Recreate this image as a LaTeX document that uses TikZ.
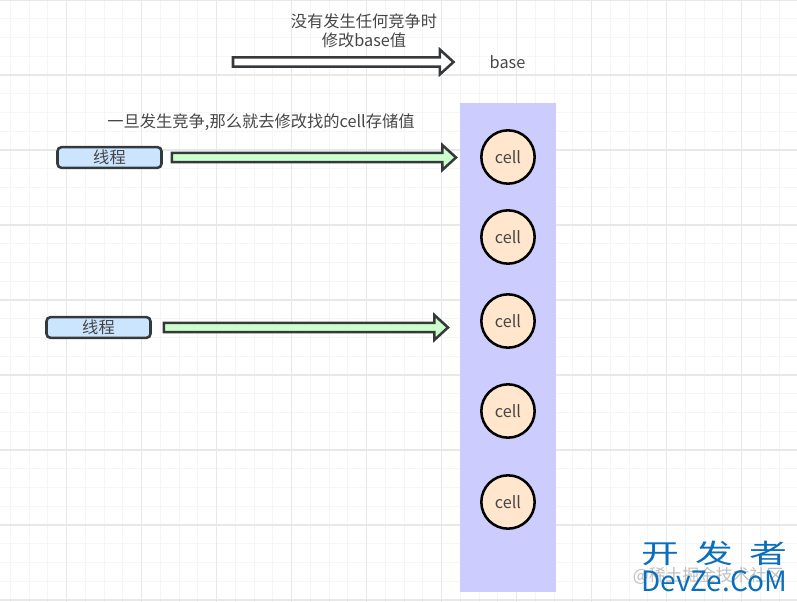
\documentclass[tikz,border=0pt]{standalone}
\usepackage{fontspec}
\setmainfont{Noto Sans CJK SC}
\usetikzlibrary{calc}
\definecolor{gridminor}{RGB}{245, 245, 245}
\definecolor{gridmajor}{RGB}{232, 232, 232}
\definecolor{outlinegrey}{RGB}{54, 57, 60}
\definecolor{labelgrey}{RGB}{70, 70, 70}
\definecolor{threadblue}{RGB}{204, 229, 255}
\definecolor{arrowgreen}{RGB}{204, 255, 204}
\definecolor{panelviolet}{RGB}{204, 204, 255}
\definecolor{cellpeach}{RGB}{255, 230, 204}
\definecolor{markblue}{RGB}{10, 110, 189}
\definecolor{markgrey}{RGB}{190, 190, 190}

\begin{document}
\begin{tikzpicture}[
    x=0.75pt, y=-0.75pt,
    every node/.style={font=\fontsize{12.2}{14}\selectfont, text=labelgrey},
    thread/.style={rectangle, rounded corners=3pt, draw=outlinegrey, fill=threadblue, line width=1.9pt, minimum width=78pt, minimum height=15.5pt, inner sep=0pt},
    cell/.style={circle, draw=black, fill=cellpeach, line width=1.9pt, minimum size=40pt, inner sep=0pt},
    panel/.style={rectangle, fill=panelviolet, draw=none, minimum width=72pt, minimum height=367pt, inner sep=0pt},
    blockarrow/.style={draw=outlinegrey, line width=1.9pt, line join=miter, to path={
        let \p1=(\tikztostart), \p2=(\tikztotarget) in
        (\x1,\y1-3.4pt) -- (\x2-10.3pt,\y1-3.4pt) -- (\x2-10.3pt,\y1-9.4pt) -- (\x2,\y1)
        -- (\x2-10.3pt,\y1+9.4pt) -- (\x2-10.3pt,\y1+3.4pt) -- (\x1,\y1+3.4pt) -- cycle}}
]
\useasboundingbox (0, 0) rectangle (797, 602);

% Background grid
\foreach \k in {0,...,42} {
    \draw[gridminor, line width=0.75pt] ({10.45+18.75*\k}, 0) -- ({10.45+18.75*\k}, 602);
}
\foreach \k in {1,...,32} {
    \draw[gridminor, line width=0.75pt] (0, {18.75*\k}) -- (797, {18.75*\k});
}
\foreach \k in {0,...,9} {
    \draw[gridmajor, line width=0.9pt] ({66.7+75*\k}, 0) -- ({66.7+75*\k}, 602);
}
\foreach \k in {0,...,8} {
    \draw[gridmajor, line width=0.9pt] (0, {75*\k}) -- (797, {75*\k});
}

% Cell column
\node[panel] (cells) at (508, 347.5) {};
\node[cell] (cell1) at (508, 157) {cell};
\node[cell] (cell2) at (508, 237) {cell};
\node[cell] (cell3) at (508, 321) {cell};
\node[cell] (cell4) at (508, 411) {cell};
\node[cell] (cell5) at (508, 502) {cell};

% Threads
\node[thread] (thread1) at (109.5, 157.5) {线程};
\node[thread] (thread2) at (98.5, 327.5) {线程};

% Labels
\node[align=center] (nocontend) at (364, 31) {没有发生任何竞争时\\修改base值};
\node (contend) at (261, 122) {一旦发生竞争,那么就去修改找的cell存储值};
\node (base) at (507.5, 62) {base};

% Arrow ends
\coordinate (basefrom) at (233, 62);
\coordinate (basetip) at (453.5, 62);
\coordinate (tip1) at (456, 157.5);
\coordinate (tip2) at (448, 327.5);

% Arrows
\draw[blockarrow, fill=white] (basefrom) to (basetip);
\draw[blockarrow, fill=arrowgreen] ([xshift=6.8pt]thread1.east) to (tip1);
\draw[blockarrow, fill=arrowgreen] ([xshift=9pt]thread2.east) to (tip2);

% Watermarks
\node[text=markgrey, font=\fontsize{12.6}{14}\selectfont] (markgrey) at (708, 576) {@稀土掘金技术社区};
\node[text=markblue, font=\fontsize{20}{24}\selectfont, xscale=1.42, transform shape] (markcn) at (714, 553) {开\hspace{8.5pt}发\hspace{8.5pt}者};
\node[text=markblue, font=\fontsize{21}{24}\selectfont] (markde) at (714.5, 581) {DevZe.CoM};

\end{tikzpicture}
\end{document}
